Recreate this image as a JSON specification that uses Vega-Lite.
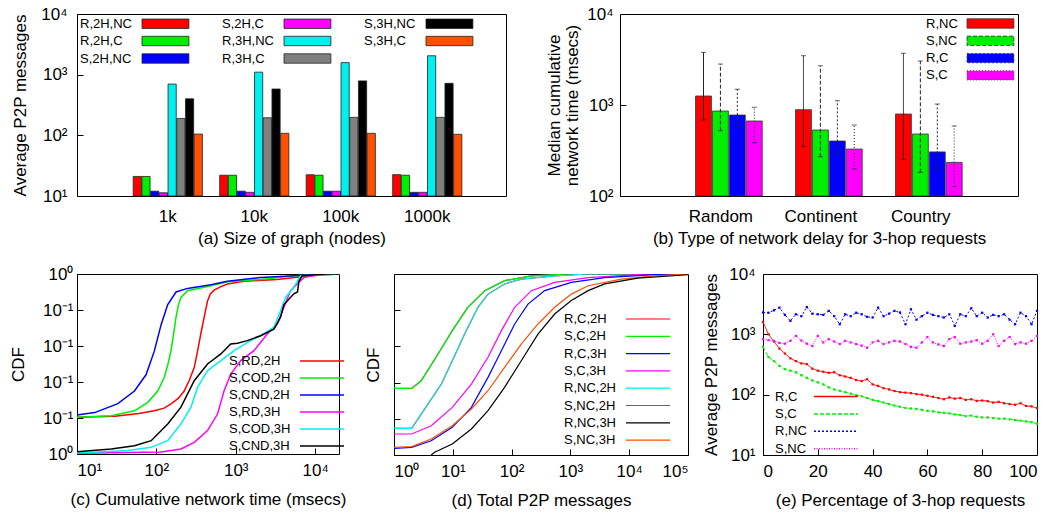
{
  "$schema": "https://vega.github.io/schema/vega-lite/v6.json",
  "background": "white",
  "padding": {"left": 8, "top": 4, "right": 2, "bottom": 2},
  "config": {
    "font": "Liberation Sans",
    "view": {"stroke": "black", "strokeWidth": 1},
    "axis": {"domain": false, "grid": false, "labelFont": "Liberation Sans", "titleFont": "Liberation Sans", "labelFontSize": 17, "titleFontSize": 17, "titleFontWeight": "normal", "labelColor": "black", "titleColor": "black", "tickColor": "black", "tickSize": -6, "labelPadding": 14},
    "legend": {"labelFont": "Liberation Sans", "labelFontSize": 13, "labelColor": "black", "padding": 0, "labelAlign": "left", "labelLimit": 200}
  },
  "datasets": {
    "a": [
      {"n": "1k", "s": "R,2H,NC", "v": 21}, {"n": "1k", "s": "R,2H,C", "v": 21}, {"n": "1k", "s": "S,2H,NC", "v": 12}, {"n": "1k", "s": "S,2H,C", "v": 11.3},
      {"n": "1k", "s": "R,3H,NC", "v": 700}, {"n": "1k", "s": "R,3H,C", "v": 190}, {"n": "1k", "s": "S,3H,NC", "v": 400}, {"n": "1k", "s": "S,3H,C", "v": 105},
      {"n": "10k", "s": "R,2H,NC", "v": 22}, {"n": "10k", "s": "R,2H,C", "v": 22}, {"n": "10k", "s": "S,2H,NC", "v": 12}, {"n": "10k", "s": "S,2H,C", "v": 11.5},
      {"n": "10k", "s": "R,3H,NC", "v": 1100}, {"n": "10k", "s": "R,3H,C", "v": 195}, {"n": "10k", "s": "S,3H,NC", "v": 580}, {"n": "10k", "s": "S,3H,C", "v": 108},
      {"n": "100k", "s": "R,2H,NC", "v": 22.4}, {"n": "100k", "s": "R,2H,C", "v": 22}, {"n": "100k", "s": "S,2H,NC", "v": 12}, {"n": "100k", "s": "S,2H,C", "v": 12},
      {"n": "100k", "s": "R,3H,NC", "v": 1580}, {"n": "100k", "s": "R,3H,C", "v": 198}, {"n": "100k", "s": "S,3H,NC", "v": 790}, {"n": "100k", "s": "S,3H,C", "v": 108},
      {"n": "1000k", "s": "R,2H,NC", "v": 22.5}, {"n": "1000k", "s": "R,2H,C", "v": 22}, {"n": "1000k", "s": "S,2H,NC", "v": 11.5}, {"n": "1000k", "s": "S,2H,C", "v": 11.5},
      {"n": "1000k", "s": "R,3H,NC", "v": 2050}, {"n": "1000k", "s": "R,3H,C", "v": 198}, {"n": "1000k", "s": "S,3H,NC", "v": 720}, {"n": "1000k", "s": "S,3H,C", "v": 104}
    ],
    "b": [
      {"d": "Random", "s": "R,NC", "v": 1256, "lo": 684, "hi": 3790},
      {"d": "Random", "s": "S,NC", "v": 859, "lo": 522, "hi": 2820},
      {"d": "Random", "s": "R,C", "v": 776, "lo": 575, "hi": 1490},
      {"d": "Random", "s": "S,C", "v": 667, "lo": 385, "hi": 944},
      {"d": "Continent", "s": "R,NC", "v": 888, "lo": 348, "hi": 3480},
      {"d": "Continent", "s": "S,NC", "v": 531, "lo": 270, "hi": 2700},
      {"d": "Continent", "s": "R,C", "v": 402, "lo": 294, "hi": 1114},
      {"d": "Continent", "s": "S,C", "v": 328, "lo": 198, "hi": 603},
      {"d": "Country", "s": "R,NC", "v": 796, "lo": 253, "hi": 3700},
      {"d": "Country", "s": "S,NC", "v": 480, "lo": 182, "hi": 3045},
      {"d": "Country", "s": "R,C", "v": 305, "lo": 196, "hi": 1025},
      {"d": "Country", "s": "S,C", "v": 234, "lo": 127, "hi": 588}
    ],
    "c": [
      {"s": "S,RD,2H", "x": 10, "y": 0.204}, {"s": "S,RD,2H", "x": 30, "y": 0.21}, {"s": "S,RD,2H", "x": 60, "y": 0.225}, {"s": "S,RD,2H", "x": 94, "y": 0.24}, {"s": "S,RD,2H", "x": 125, "y": 0.255}, {"s": "S,RD,2H", "x": 153, "y": 0.278}, {"s": "S,RD,2H", "x": 190, "y": 0.31}, {"s": "S,RD,2H", "x": 224, "y": 0.35}, {"s": "S,RD,2H", "x": 260, "y": 0.41}, {"s": "S,RD,2H", "x": 300, "y": 0.48}, {"s": "S,RD,2H", "x": 330, "y": 0.57}, {"s": "S,RD,2H", "x": 363, "y": 0.667}, {"s": "S,RD,2H", "x": 400, "y": 0.76}, {"s": "S,RD,2H", "x": 441, "y": 0.85}, {"s": "S,RD,2H", "x": 480, "y": 0.89}, {"s": "S,RD,2H", "x": 534, "y": 0.91}, {"s": "S,RD,2H", "x": 650, "y": 0.93}, {"s": "S,RD,2H", "x": 786, "y": 0.944}, {"s": "S,RD,2H", "x": 1273, "y": 0.96}, {"s": "S,RD,2H", "x": 3333, "y": 0.97}, {"s": "S,RD,2H", "x": 5500, "y": 0.98}, {"s": "S,RD,2H", "x": 8700, "y": 0.99}, {"s": "S,RD,2H", "x": 20000, "y": 1},
      {"s": "S,COD,2H", "x": 10, "y": 0.204}, {"s": "S,COD,2H", "x": 27, "y": 0.213}, {"s": "S,COD,2H", "x": 53, "y": 0.24}, {"s": "S,COD,2H", "x": 78, "y": 0.287}, {"s": "S,COD,2H", "x": 104, "y": 0.35}, {"s": "S,COD,2H", "x": 126, "y": 0.426}, {"s": "S,COD,2H", "x": 140, "y": 0.5}, {"s": "S,COD,2H", "x": 153, "y": 0.574}, {"s": "S,COD,2H", "x": 165, "y": 0.67}, {"s": "S,COD,2H", "x": 177, "y": 0.76}, {"s": "S,COD,2H", "x": 190, "y": 0.83}, {"s": "S,COD,2H", "x": 204, "y": 0.87}, {"s": "S,COD,2H", "x": 247, "y": 0.907}, {"s": "S,COD,2H", "x": 486, "y": 0.935}, {"s": "S,COD,2H", "x": 786, "y": 0.957}, {"s": "S,COD,2H", "x": 2060, "y": 0.97}, {"s": "S,COD,2H", "x": 5400, "y": 0.99}, {"s": "S,COD,2H", "x": 20000, "y": 1},
      {"s": "S,CND,2H", "x": 10, "y": 0.217}, {"s": "S,CND,2H", "x": 16.7, "y": 0.23}, {"s": "S,CND,2H", "x": 32.7, "y": 0.28}, {"s": "S,CND,2H", "x": 53, "y": 0.35}, {"s": "S,CND,2H", "x": 74, "y": 0.44}, {"s": "S,CND,2H", "x": 94, "y": 0.57}, {"s": "S,CND,2H", "x": 115, "y": 0.72}, {"s": "S,CND,2H", "x": 139, "y": 0.83}, {"s": "S,CND,2H", "x": 177, "y": 0.9}, {"s": "S,CND,2H", "x": 247, "y": 0.92}, {"s": "S,CND,2H", "x": 486, "y": 0.94}, {"s": "S,CND,2H", "x": 786, "y": 0.96}, {"s": "S,CND,2H", "x": 2060, "y": 0.98}, {"s": "S,CND,2H", "x": 14100, "y": 1}, {"s": "S,CND,2H", "x": 20000, "y": 1},
      {"s": "S,RD,3H", "x": 10, "y": 0.004}, {"s": "S,RD,3H", "x": 115, "y": 0.011}, {"s": "S,RD,3H", "x": 204, "y": 0.028}, {"s": "S,RD,3H", "x": 300, "y": 0.065}, {"s": "S,RD,3H", "x": 441, "y": 0.13}, {"s": "S,RD,3H", "x": 590, "y": 0.222}, {"s": "S,RD,3H", "x": 714, "y": 0.352}, {"s": "S,RD,3H", "x": 865, "y": 0.444}, {"s": "S,RD,3H", "x": 1156, "y": 0.519}, {"s": "S,RD,3H", "x": 1698, "y": 0.574}, {"s": "S,RD,3H", "x": 2495, "y": 0.667}, {"s": "S,RD,3H", "x": 3333, "y": 0.722}, {"s": "S,RD,3H", "x": 4045, "y": 0.815}, {"s": "S,RD,3H", "x": 4900, "y": 0.907}, {"s": "S,RD,3H", "x": 5944, "y": 0.944}, {"s": "S,RD,3H", "x": 7200, "y": 0.98}, {"s": "S,RD,3H", "x": 12000, "y": 1}, {"s": "S,RD,3H", "x": 20000, "y": 1},
      {"s": "S,COD,3H", "x": 10, "y": 0.006}, {"s": "S,COD,3H", "x": 43.7, "y": 0.019}, {"s": "S,COD,3H", "x": 86, "y": 0.037}, {"s": "S,COD,3H", "x": 139, "y": 0.074}, {"s": "S,COD,3H", "x": 204, "y": 0.167}, {"s": "S,COD,3H", "x": 272, "y": 0.259}, {"s": "S,COD,3H", "x": 330, "y": 0.37}, {"s": "S,COD,3H", "x": 441, "y": 0.463}, {"s": "S,COD,3H", "x": 649, "y": 0.519}, {"s": "S,COD,3H", "x": 953, "y": 0.574}, {"s": "S,COD,3H", "x": 1540, "y": 0.63}, {"s": "S,COD,3H", "x": 2060, "y": 0.657}, {"s": "S,COD,3H", "x": 3030, "y": 0.704}, {"s": "S,COD,3H", "x": 3674, "y": 0.796}, {"s": "S,COD,3H", "x": 4250, "y": 0.87}, {"s": "S,COD,3H", "x": 5400, "y": 0.926}, {"s": "S,COD,3H", "x": 6550, "y": 0.99}, {"s": "S,COD,3H", "x": 20000, "y": 1},
      {"s": "S,CND,3H", "x": 10, "y": 0.013}, {"s": "S,CND,3H", "x": 27, "y": 0.028}, {"s": "S,CND,3H", "x": 53, "y": 0.046}, {"s": "S,CND,3H", "x": 86, "y": 0.074}, {"s": "S,CND,3H", "x": 139, "y": 0.167}, {"s": "S,CND,3H", "x": 204, "y": 0.26}, {"s": "S,CND,3H", "x": 300, "y": 0.407}, {"s": "S,CND,3H", "x": 441, "y": 0.5}, {"s": "S,CND,3H", "x": 649, "y": 0.556}, {"s": "S,CND,3H", "x": 865, "y": 0.611}, {"s": "S,CND,3H", "x": 1049, "y": 0.615}, {"s": "S,CND,3H", "x": 1400, "y": 0.63}, {"s": "S,CND,3H", "x": 2060, "y": 0.657}, {"s": "S,CND,3H", "x": 3030, "y": 0.694}, {"s": "S,CND,3H", "x": 3674, "y": 0.76}, {"s": "S,CND,3H", "x": 4045, "y": 0.83}, {"s": "S,CND,3H", "x": 4455, "y": 0.85}, {"s": "S,CND,3H", "x": 5400, "y": 0.89}, {"s": "S,CND,3H", "x": 6000, "y": 0.9}, {"s": "S,CND,3H", "x": 6250, "y": 0.96}, {"s": "S,CND,3H", "x": 6870, "y": 0.99}, {"s": "S,CND,3H", "x": 14000, "y": 1}, {"s": "S,CND,3H", "x": 20000, "y": 1}
    ],
    "d": [
      {"s": "S,NC,2H", "x": 1, "y": 0.368}, {"s": "S,NC,2H", "x": 2, "y": 0.368}, {"s": "S,NC,2H", "x": 2.9, "y": 0.41}, {"s": "S,NC,2H", "x": 5.6, "y": 0.558}, {"s": "S,NC,2H", "x": 9.8, "y": 0.687}, {"s": "S,NC,2H", "x": 18, "y": 0.816}, {"s": "S,NC,2H", "x": 35, "y": 0.908}, {"s": "S,NC,2H", "x": 76, "y": 0.963}, {"s": "S,NC,2H", "x": 217, "y": 0.99}, {"s": "S,NC,2H", "x": 1037, "y": 1}, {"s": "S,NC,2H", "x": 100000, "y": 1},
      {"s": "S,C,2H", "x": 1, "y": 0.368}, {"s": "S,C,2H", "x": 2, "y": 0.368}, {"s": "S,C,2H", "x": 2.9, "y": 0.41}, {"s": "S,C,2H", "x": 5.6, "y": 0.558}, {"s": "S,C,2H", "x": 9.8, "y": 0.687}, {"s": "S,C,2H", "x": 18, "y": 0.816}, {"s": "S,C,2H", "x": 35, "y": 0.908}, {"s": "S,C,2H", "x": 76, "y": 0.963}, {"s": "S,C,2H", "x": 217, "y": 0.99}, {"s": "S,C,2H", "x": 1037, "y": 1}, {"s": "S,C,2H", "x": 100000, "y": 1},
      {"s": "R,C,2H", "x": 1, "y": 0.147}, {"s": "R,C,2H", "x": 2, "y": 0.147}, {"s": "R,C,2H", "x": 3.8, "y": 0.282}, {"s": "R,C,2H", "x": 6.4, "y": 0.392}, {"s": "R,C,2H", "x": 9.8, "y": 0.521}, {"s": "R,C,2H", "x": 15.9, "y": 0.668}, {"s": "R,C,2H", "x": 26.8, "y": 0.816}, {"s": "R,C,2H", "x": 39.7, "y": 0.889}, {"s": "R,C,2H", "x": 76, "y": 0.945}, {"s": "R,C,2H", "x": 146, "y": 0.972}, {"s": "R,C,2H", "x": 540, "y": 0.99}, {"s": "R,C,2H", "x": 2000, "y": 1}, {"s": "R,C,2H", "x": 100000, "y": 1},
      {"s": "R,NC,2H", "x": 1, "y": 0.147}, {"s": "R,NC,2H", "x": 2, "y": 0.147}, {"s": "R,NC,2H", "x": 3.8, "y": 0.282}, {"s": "R,NC,2H", "x": 6.4, "y": 0.392}, {"s": "R,NC,2H", "x": 9.8, "y": 0.521}, {"s": "R,NC,2H", "x": 15.9, "y": 0.668}, {"s": "R,NC,2H", "x": 26.8, "y": 0.816}, {"s": "R,NC,2H", "x": 39.7, "y": 0.889}, {"s": "R,NC,2H", "x": 76, "y": 0.945}, {"s": "R,NC,2H", "x": 146, "y": 0.972}, {"s": "R,NC,2H", "x": 540, "y": 0.99}, {"s": "R,NC,2H", "x": 2000, "y": 1}, {"s": "R,NC,2H", "x": 100000, "y": 1},
      {"s": "S,C,3H", "x": 1, "y": 0.116}, {"s": "S,C,3H", "x": 2, "y": 0.116}, {"s": "S,C,3H", "x": 4.3, "y": 0.162}, {"s": "S,C,3H", "x": 9.8, "y": 0.263}, {"s": "S,C,3H", "x": 20.7, "y": 0.392}, {"s": "S,C,3H", "x": 39.7, "y": 0.54}, {"s": "S,C,3H", "x": 67, "y": 0.687}, {"s": "S,C,3H", "x": 113, "y": 0.816}, {"s": "S,C,3H", "x": 217, "y": 0.908}, {"s": "S,C,3H", "x": 540, "y": 0.954}, {"s": "S,C,3H", "x": 2000, "y": 0.98}, {"s": "S,C,3H", "x": 14000, "y": 0.996}, {"s": "S,C,3H", "x": 100000, "y": 1},
      {"s": "R,C,3H", "x": 1, "y": 0.037}, {"s": "R,C,3H", "x": 2, "y": 0.042}, {"s": "R,C,3H", "x": 4.3, "y": 0.079}, {"s": "R,C,3H", "x": 9.8, "y": 0.153}, {"s": "R,C,3H", "x": 20.7, "y": 0.263}, {"s": "R,C,3H", "x": 39.7, "y": 0.429}, {"s": "R,C,3H", "x": 67, "y": 0.576}, {"s": "R,C,3H", "x": 113, "y": 0.724}, {"s": "R,C,3H", "x": 190, "y": 0.834}, {"s": "R,C,3H", "x": 365, "y": 0.908}, {"s": "R,C,3H", "x": 1037, "y": 0.954}, {"s": "R,C,3H", "x": 3830, "y": 0.98}, {"s": "R,C,3H", "x": 27100, "y": 0.996}, {"s": "R,C,3H", "x": 100000, "y": 1},
      {"s": "S,NC,3H", "x": 1, "y": 0.042}, {"s": "S,NC,3H", "x": 2, "y": 0.046}, {"s": "S,NC,3H", "x": 4.3, "y": 0.088}, {"s": "S,NC,3H", "x": 9.8, "y": 0.162}, {"s": "S,NC,3H", "x": 20.7, "y": 0.254}, {"s": "S,NC,3H", "x": 39.7, "y": 0.355}, {"s": "S,NC,3H", "x": 76, "y": 0.484}, {"s": "S,NC,3H", "x": 146, "y": 0.613}, {"s": "S,NC,3H", "x": 281, "y": 0.724}, {"s": "S,NC,3H", "x": 540, "y": 0.816}, {"s": "S,NC,3H", "x": 1037, "y": 0.889}, {"s": "S,NC,3H", "x": 2000, "y": 0.935}, {"s": "S,NC,3H", "x": 7350, "y": 0.972}, {"s": "S,NC,3H", "x": 27100, "y": 0.99}, {"s": "S,NC,3H", "x": 100000, "y": 1},
      {"s": "R,NC,3H", "x": 4.3, "y": 0}, {"s": "R,NC,3H", "x": 4.9, "y": 0.015}, {"s": "R,NC,3H", "x": 9.8, "y": 0.061}, {"s": "R,NC,3H", "x": 20.7, "y": 0.144}, {"s": "R,NC,3H", "x": 39.7, "y": 0.245}, {"s": "R,NC,3H", "x": 76, "y": 0.374}, {"s": "R,NC,3H", "x": 146, "y": 0.521}, {"s": "R,NC,3H", "x": 281, "y": 0.668}, {"s": "R,NC,3H", "x": 540, "y": 0.779}, {"s": "R,NC,3H", "x": 1037, "y": 0.853}, {"s": "R,NC,3H", "x": 2000, "y": 0.908}, {"s": "R,NC,3H", "x": 3830, "y": 0.945}, {"s": "R,NC,3H", "x": 14000, "y": 0.977}, {"s": "R,NC,3H", "x": 100000, "y": 0.996}
    ],
    "e": [
      {"p": 0, "R,C": 1600, "S,C": 620, "R,NC": 2300, "S,NC": 830},
      {"p": 2, "R,C": 1000, "S,C": 420, "R,NC": 2280, "S,NC": 800},
      {"p": 4, "R,C": 760, "S,C": 360, "R,NC": 2500, "S,NC": 780},
      {"p": 6, "R,C": 580, "S,C": 300, "R,NC": 2770, "S,NC": 720},
      {"p": 8, "R,C": 480, "S,C": 265, "R,NC": 2100, "S,NC": 700},
      {"p": 10, "R,C": 400, "S,C": 250, "R,NC": 1670, "S,NC": 780},
      {"p": 12, "R,C": 360, "S,C": 235, "R,NC": 2150, "S,NC": 940},
      {"p": 14, "R,C": 330, "S,C": 210, "R,NC": 2000, "S,NC": 790},
      {"p": 16, "R,C": 320, "S,C": 190, "R,NC": 2830, "S,NC": 700},
      {"p": 18, "R,C": 270, "S,C": 172, "R,NC": 2200, "S,NC": 640},
      {"p": 20, "R,C": 250, "S,C": 160, "R,NC": 2150, "S,NC": 940},
      {"p": 22, "R,C": 240, "S,C": 148, "R,NC": 2100, "S,NC": 735},
      {"p": 24, "R,C": 230, "S,C": 132, "R,NC": 2450, "S,NC": 830},
      {"p": 26, "R,C": 235, "S,C": 122, "R,NC": 2000, "S,NC": 760},
      {"p": 28, "R,C": 210, "S,C": 116, "R,NC": 1470, "S,NC": 690},
      {"p": 30, "R,C": 200, "S,C": 110, "R,NC": 2150, "S,NC": 780},
      {"p": 32, "R,C": 190, "S,C": 104, "R,NC": 2000, "S,NC": 735},
      {"p": 34, "R,C": 175, "S,C": 98, "R,NC": 2280, "S,NC": 690},
      {"p": 36, "R,C": 168, "S,C": 94, "R,NC": 2150, "S,NC": 650},
      {"p": 38, "R,C": 180, "S,C": 88, "R,NC": 1950, "S,NC": 600},
      {"p": 40, "R,C": 148, "S,C": 82, "R,NC": 1900, "S,NC": 735},
      {"p": 42, "R,C": 140, "S,C": 78, "R,NC": 2770, "S,NC": 780},
      {"p": 44, "R,C": 128, "S,C": 74, "R,NC": 2000, "S,NC": 690},
      {"p": 46, "R,C": 122, "S,C": 70, "R,NC": 2200, "S,NC": 735},
      {"p": 48, "R,C": 115, "S,C": 66, "R,NC": 2450, "S,NC": 780},
      {"p": 50, "R,C": 110, "S,C": 63, "R,NC": 2300, "S,NC": 760},
      {"p": 52, "R,C": 108, "S,C": 60, "R,NC": 1470, "S,NC": 690},
      {"p": 54, "R,C": 106, "S,C": 59, "R,NC": 2600, "S,NC": 620},
      {"p": 56, "R,C": 102, "S,C": 58, "R,NC": 1750, "S,NC": 600},
      {"p": 58, "R,C": 100, "S,C": 56, "R,NC": 2000, "S,NC": 735},
      {"p": 60, "R,C": 96, "S,C": 54, "R,NC": 2280, "S,NC": 900},
      {"p": 62, "R,C": 92, "S,C": 53, "R,NC": 2100, "S,NC": 735},
      {"p": 64, "R,C": 88, "S,C": 51, "R,NC": 2000, "S,NC": 680},
      {"p": 66, "R,C": 84, "S,C": 50, "R,NC": 1900, "S,NC": 640},
      {"p": 68, "R,C": 90, "S,C": 49, "R,NC": 2150, "S,NC": 830},
      {"p": 70, "R,C": 86, "S,C": 47, "R,NC": 1380, "S,NC": 900},
      {"p": 72, "R,C": 88, "S,C": 46, "R,NC": 2150, "S,NC": 700},
      {"p": 74, "R,C": 82, "S,C": 44, "R,NC": 2000, "S,NC": 735},
      {"p": 76, "R,C": 84, "S,C": 45, "R,NC": 2700, "S,NC": 760},
      {"p": 78, "R,C": 79, "S,C": 43, "R,NC": 2000, "S,NC": 800},
      {"p": 80, "R,C": 80, "S,C": 42, "R,NC": 2280, "S,NC": 700},
      {"p": 82, "R,C": 78, "S,C": 42, "R,NC": 1900, "S,NC": 780},
      {"p": 84, "R,C": 74, "S,C": 41, "R,NC": 2100, "S,NC": 1000},
      {"p": 86, "R,C": 76, "S,C": 40, "R,NC": 2000, "S,NC": 640},
      {"p": 88, "R,C": 72, "S,C": 40, "R,NC": 2150, "S,NC": 780},
      {"p": 90, "R,C": 70, "S,C": 39, "R,NC": 1750, "S,NC": 900},
      {"p": 92, "R,C": 68, "S,C": 38, "R,NC": 1470, "S,NC": 690},
      {"p": 94, "R,C": 72, "S,C": 37, "R,NC": 2280, "S,NC": 735},
      {"p": 96, "R,C": 65, "S,C": 36, "R,NC": 2000, "S,NC": 700},
      {"p": 98, "R,C": 64, "S,C": 35, "R,NC": 1470, "S,NC": 780},
      {"p": 100, "R,C": 60, "S,C": 33, "R,NC": 2450, "S,NC": 940}
    ]
  },
  "spacing": 17,
  "resolve": {"scale": {"color": "independent", "strokeWidth": "independent", "strokeDash": "independent", "xOffset": "independent"}, "legend": {"color": "independent", "strokeDash": "independent"}},
  "vconcat": [
    {
      "hconcat": [
        {
          "width": 429, "height": 182,
          "data": {"name": "a"},
          "mark": {"type": "bar", "stroke": "#222", "strokeWidth": 0.8},
          "encoding": {
            "x": {"field": "n", "type": "nominal", "sort": ["1k", "10k", "100k", "1000k"], "scale": {"paddingInner": 0.2, "paddingOuter": 0.58, "align": 0.56},
                  "axis": {"title": "(a) Size of graph (nodes)", "labelAngle": 0, "ticks": false, "labelPadding": 12, "titlePadding": 6}},
            "xOffset": {"field": "s", "type": "nominal", "sort": ["R,2H,NC", "R,2H,C", "S,2H,NC", "S,2H,C", "R,3H,NC", "R,3H,C", "S,3H,NC", "S,3H,C"], "scale": {"paddingInner": 0.06}},
            "y": {"field": "v", "type": "quantitative", "scale": {"type": "log", "domain": [10, 10000]},
                  "axis": {"title": "Average P2P messages", "values": [10, 100, 1000, 10000], "labelExpr": "datum.value == 10 ? '10¹' : datum.value == 100 ? '10²' : datum.value == 1000 ? '10³' : '10⁴'", "labelPadding": 16, "titlePadding": 11}},
            "y2": {"datum": 10},
            "color": {"field": "s", "type": "nominal",
                      "scale": {"domain": ["R,2H,NC", "R,2H,C", "S,2H,NC", "S,2H,C", "R,3H,NC", "R,3H,C", "S,3H,NC", "S,3H,C"],
                                "range": ["#ff0000", "#00ee00", "#0000ff", "#ff00ff", "#00f0f0", "#808080", "#000000", "#ff5000"]},
                      "legend": {"title": null, "orient": "none", "legendX": 58.5, "legendY": 3, "columns": 3, "columnPadding": 30, "rowPadding": 3.5,
                                 "symbolType": "M0,-1H10V1H0Z", "symbolSize": 88, "symbolStrokeColor": "#222", "symbolStrokeWidth": 0.8, "symbolOpacity": 1,
                                 "labelOffset": -68.5}}
          }
        },
        {
          "width": 398, "height": 182,
          "data": {"name": "b"},
          "encoding": {
            "x": {"field": "d", "type": "nominal", "sort": ["Random", "Continent", "Country"], "scale": {"paddingInner": 0.333, "paddingOuter": 0.657, "align": 0.575},
                  "axis": {"title": "(b) Type of network delay for 3-hop requests", "labelAngle": 0, "ticks": false, "labelPadding": 12, "titlePadding": 6, "labelOffset": -8}},
            "xOffset": {"field": "s", "type": "nominal", "sort": ["R,NC", "S,NC", "R,C", "S,C"], "scale": {"paddingInner": 0.06}}
          },
          "layer": [
            {
              "mark": {"type": "bar", "stroke": "#333", "strokeWidth": 0.8},
              "encoding": {
                "y": {"field": "v", "type": "quantitative", "scale": {"type": "log", "domain": [100, 10000]},
                      "axis": {"title": ["Median cumulative", "network time (msecs)"], "titleLineHeight": 18, "values": [100, 1000, 10000], "labelExpr": "datum.value == 100 ? '10²' : datum.value == 1000 ? '10³' : '10⁴'", "labelPadding": 13, "titlePadding": 5}},
                "y2": {"datum": 100},
                "color": {"field": "s", "type": "nominal",
                          "scale": {"domain": ["R,NC", "S,NC", "R,C", "S,C"], "range": ["#ff0000", "#00ee00", "#0000ff", "#ff00ff"]},
                          "legend": {"title": null, "orient": "none", "legendX": 340.5, "legendY": 3, "rowPadding": 3.3,
                                     "symbolType": "M0,-1H10V1H0Z", "symbolSize": 88, "symbolStrokeColor": "#333", "symbolStrokeWidth": 0.8, "symbolOpacity": 1,
                                     "labelOffset": -47.5}}
              }
            },
            {
              "mark": {"type": "rule", "color": "#222", "strokeWidth": 1},
              "encoding": {
                "y": {"field": "lo", "type": "quantitative"},
                "y2": {"field": "hi"},
                "strokeDash": {"field": "s", "type": "nominal", "scale": {"domain": ["R,NC", "S,NC", "R,C", "S,C"], "range": [[1, 0], [4, 2], [2, 2], [1, 2]]}, "legend": null}
              }
            },
            {
              "mark": {"type": "tick", "color": "#222", "size": 5, "thickness": 1},
              "encoding": {"y": {"field": "lo", "type": "quantitative"}}
            },
            {
              "mark": {"type": "tick", "color": "#222", "size": 5, "thickness": 1},
              "encoding": {"y": {"field": "hi", "type": "quantitative"}}
            }
          ]
        }
      ],
      "spacing": 114,
      "bounds": "flush",
      "resolve": {"scale": {"color": "independent", "strokeDash": "independent", "xOffset": "independent"}, "legend": {"color": "independent"}}
    },
    {
      "hconcat": [
        {
          "width": 262, "height": 180,
          "data": {"name": "c"},
          "mark": {"type": "line", "clip": true},
          "encoding": {
            "x": {"field": "x", "type": "quantitative", "scale": {"type": "log", "domain": [10, 20000]},
                  "axis": {"title": "(c) Cumulative network time (msecs)", "values": [10, 100, 1000, 10000], "labelExpr": "datum.value == 10 ? '10¹' : datum.value == 100 ? '10²' : datum.value == 1000 ? '10³' : '10⁴'", "titlePadding": 13}},
            "y": {"field": "y", "type": "quantitative", "scale": {"domain": [0, 1]},
                  "axis": {"title": "CDF", "values": [0, 0.2, 0.4, 0.6, 0.8, 1], "labelExpr": "datum.value == 0 || datum.value == 1 ? '10⁰' : '10⁻¹'", "labelPadding": 10, "titlePadding": 15}},
            "color": {"field": "s", "type": "nominal",
                      "scale": {"domain": ["S,RD,2H", "S,COD,2H", "S,CND,2H", "S,RD,3H", "S,COD,3H", "S,CND,3H"], "range": ["#ff0000", "#00ee00", "#0000ff", "#ff00ff", "#00f0f0", "#000000"]},
                      "legend": {"title": null, "orient": "none", "legendX": 216.5, "legendY": 80.5, "rowPadding": 3,
                                 "symbolType": "M0,0H10", "symbolSize": 77.4, "symbolStrokeWidth": 1.5, "labelOffset": -77.5}},
            "strokeWidth": {"field": "s", "type": "nominal", "scale": {"domain": ["S,RD,2H", "S,COD,2H", "S,CND,2H", "S,RD,3H", "S,COD,3H", "S,CND,3H"], "range": [1.5, 1.5, 2, 3.5, 2.5, 1.5]}, "legend": null}
          }
        },
        {
          "hconcat": [
            {
              "width": 294, "height": 181,
              "data": {"name": "d"},
              "mark": {"type": "line", "clip": true},
              "encoding": {
                "x": {"field": "x", "type": "quantitative", "scale": {"type": "log", "domain": [1, 100000]},
                      "axis": {"title": "(d) Total P2P messages", "values": [1, 10, 100, 1000, 10000, 100000], "labelExpr": "datum.value == 1 ? '10⁰' : datum.value == 10 ? '10¹' : datum.value == 100 ? '10²' : datum.value == 1000 ? '10³' : datum.value == 10000 ? '10⁴' : '10⁵'", "titlePadding": 13}},
                "y": {"field": "y", "type": "quantitative", "scale": {"domain": [0, 1]},
                      "axis": {"title": "CDF", "values": [0, 0.2, 0.4, 0.6, 0.8, 1], "labels": false, "titlePadding": 11}},
                "color": {"field": "s", "type": "nominal",
                          "scale": {"domain": ["R,C,2H", "S,C,2H", "R,C,3H", "S,C,3H", "R,NC,2H", "S,NC,2H", "R,NC,3H", "S,NC,3H"], "range": ["#ff0000", "#00ee00", "#0000ff", "#ff00ff", "#00f0f0", "#666666", "#000000", "#ff5000"]},
                          "legend": {"title": null, "orient": "none", "legendX": 225.5, "legendY": 38.5, "rowPadding": 3.3,
                                     "symbolType": "M0,0H10", "symbolSize": 77.4, "symbolStrokeWidth": 1.5, "labelOffset": -68.5}},
                "strokeWidth": {"field": "s", "type": "nominal", "scale": {"domain": ["R,C,2H", "S,C,2H", "R,C,3H", "S,C,3H", "R,NC,2H", "S,NC,2H", "R,NC,3H", "S,NC,3H"], "range": [1.2, 1.2, 2, 3, 1.6, 1, 1.2, 3]}, "legend": null}
              }
            },
            {
              "width": 274, "height": 181,
              "data": {"name": "e"},
              "transform": [{"fold": ["R,C", "S,C", "R,NC", "S,NC"], "as": ["s", "v"]}],
              "mark": {"type": "line", "strokeWidth": 1, "point": {"shape": "square", "size": 5, "filled": true}},
              "encoding": {
                "x": {"field": "p", "type": "quantitative", "scale": {"domain": [0, 100]},
                      "axis": {"title": "(e) Percentage of 3-hop requests", "values": [0, 20, 40, 60, 80, 100], "titlePadding": 13}},
                "y": {"field": "v", "type": "quantitative", "scale": {"type": "log", "domain": [10, 10000]},
                      "axis": {"title": "Average P2P messages", "values": [10, 100, 1000, 10000], "labelExpr": "datum.value == 10 ? '10¹' : datum.value == 100 ? '10²' : datum.value == 1000 ? '10³' : '10⁴'", "labelPadding": 14, "titlePadding": 8}},
                "color": {"field": "s", "type": "nominal",
                          "scale": {"domain": ["R,C", "S,C", "R,NC", "S,NC"], "range": ["#ff0000", "#00ee00", "#0000ff", "#ff00ff"]},
                          "legend": {"title": null, "orient": "none", "legendX": 44.5, "legendY": 116, "rowPadding": 3.4,
                                     "symbolType": "M0,0H10", "symbolSize": 77.4, "symbolStrokeWidth": 1.5, "labelOffset": -45.5}},
                "strokeDash": {"field": "s", "type": "nominal", "scale": {"domain": ["R,C", "S,C", "R,NC", "S,NC"], "range": [[1, 0], [4, 2], [2, 2], [1, 1.5]]}}
              }
            }
          ],
          "spacing": 75,
          "bounds": "flush",
          "resolve": {"scale": {"color": "independent", "strokeWidth": "independent", "strokeDash": "independent"}, "legend": {"color": "independent", "strokeDash": "independent"}}
        }
      ],
      "spacing": 55,
      "bounds": "flush",
      "resolve": {"scale": {"color": "independent", "strokeWidth": "independent", "strokeDash": "independent"}, "legend": {"color": "independent", "strokeDash": "independent"}}
    }
  ]
}
